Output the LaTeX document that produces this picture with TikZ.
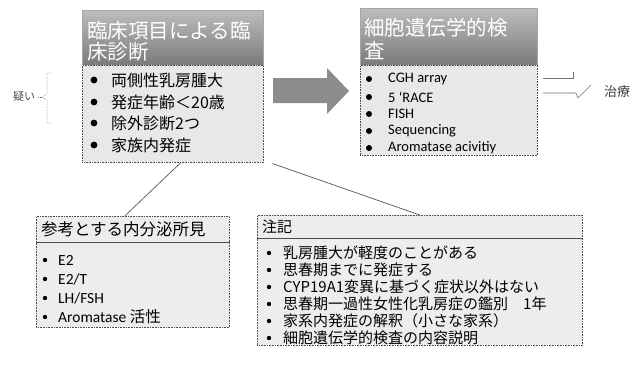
\documentclass[tikz,border=0pt]{standalone}
\usepackage{fontspec}
\setmainfont{Carlito}
\newfontfamily\jp{Noto Sans CJK JP}
\usetikzlibrary{calc}
\begin{document}
\begin{tikzpicture}[x=1pt,y=-1pt,
  hdr/.style={rectangle, top color=black!26, bottom color=black!52, draw=black!35, line width=0.4pt, inner sep=0pt},
  bodybox/.style={rectangle, fill=black!9, draw=black!70, densely dotted, line width=0.6pt, inner sep=0pt},
  plainbox/.style={rectangle, fill=black!7, draw=black!70, densely dotted, line width=0.6pt, inner sep=0pt},
  htext/.style={inner sep=0pt, anchor=west, text=white, font=\jp\fontsize{20.5}{21}\selectfont},
  itemA/.style={inner sep=0pt, anchor=west, font=\jp\fontsize{16}{16}\selectfont},
  itemB/.style={inner sep=0pt, anchor=west, font=\fontsize{14.5}{14.5}\selectfont},
  itemC/.style={inner sep=0pt, anchor=west, font=\fontsize{15.5}{15.5}\selectfont},
  itemD/.style={inner sep=0pt, anchor=west, font=\jp\fontsize{15}{15}\selectfont},
  conn/.style={draw=black!60, line width=0.8pt},
  faint/.style={draw=black!55, line width=0.5pt, densely dotted}
]
\useasboundingbox[fill=white] (0,0) rectangle (641,370);

% ---- Box 1 ----
\node[hdr, minimum width=181pt, minimum height=55pt, anchor=north west] (h1) at (82,10) {};
\node[htext] (h1a) at (87,31) {臨床項目による臨};
\node[htext] (h1b) at (87,52) {床診断};
\node[bodybox, minimum width=181pt, minimum height=97pt, anchor=north west] (b1) at (82,65) {};
\foreach \yy/\tt [count=\i] in {80/両側性乳房腫大, 102/発症年齢＜20歳, 123/除外診断2つ, 145/家族内発症}{
  \fill (94,\yy) circle (3.4pt);
  \node[itemA] (a\i) at (111,\yy) {\tt};
}

% ---- big arrow ----
\fill[black!45] (273,78) -- (327,78) -- (327,68) -- (349,91) -- (327,114) -- (327,103) -- (273,103) -- cycle;

% ---- Box 2 ----
\node[hdr, minimum width=177pt, minimum height=57pt, anchor=north west] (h2) at (360,8) {};
\node[htext] (h2a) at (364,28) {細胞遺伝学的検};
\node[htext] (h2b) at (364,50) {査};
\node[bodybox, minimum width=177pt, minimum height=90pt, anchor=north west] (b2) at (360,65) {};
\foreach \yy/\tt [count=\i] in {79/{CGH array}, 97/{5 ‘RACE}, 114/{FISH}, 131/{Sequencing}, 148/{Aromatase acivitiy}}{
  \fill (369,\yy) circle (3pt);
  \node[itemB] (r\i) at (388,\yy) {\tt};
}

% ---- suspicion brace ----
\node[inner sep=0pt, font=\jp\fontsize{11}{11}\selectfont, text=black!70] (sus) at (24,96) {疑い};
\coordinate (bt) at (52,73);
\coordinate (bb) at (52,123);
\coordinate (bm) at (42,97);
\draw[faint] (bt) -- (47,73) -- (47,94) -- (bm) -- (47,100) -- (47,123) -- (bb);
\draw[faint] (sus.east) ++(3,1) -- (bm);

% ---- therapy ----
\node[inner sep=0pt, font=\jp\fontsize{13}{13}\selectfont, text=black!75] (tx) at (617,92) {治療};
\draw[draw=black!55, line width=0.5pt] (543,78) -- (573,78) -- (573,72);
\draw[draw=black!55, line width=0.6pt] (543,93) -- (576,93) -- (578,98) -- (591,85);

% ---- Box 3 ----
\node[plainbox, minimum width=193pt, minimum height=111pt, anchor=north west] (b3) at (36,216) {};
\draw[draw=black!70, line width=0.6pt] (b3.west |- 0,242) -- (b3.east |- 0,242);
\node[inner sep=0pt, anchor=west, font=\jp\fontsize{16.5}{16.5}\selectfont] (t3) at (41,229) {参考とする内分泌所見};
\foreach \yy/\tt [count=\i] in {260/{E2}, 279/{E2/T}, 298/{LH/FSH}, 317/{Aromatase {\jp 活性}}}{
  \fill (45,\yy) circle (2.2pt);
  \node[itemC] (e\i) at (58,\yy) {\tt};
}

% ---- Box 4 ----
\node[plainbox, minimum width=325pt, minimum height=130pt, anchor=north west] (b4) at (257,215) {};
\draw[draw=black!70, line width=0.6pt] (b4.west |- 0,238) -- (b4.east |- 0,238);
\node[inner sep=0pt, anchor=west, font=\jp\fontsize{15}{15}\selectfont] (t4) at (262,227) {注記};
\foreach \yy/\tt [count=\i] in {253/乳房腫大が軽度のことがある, 270/思春期までに発症する, 287/CYP19A1変異に基づく症状以外はない, 304/思春期一過性女性化乳房症の鑑別　1年, 321/家系内発症の解釈（小さな家系）, 338/細胞遺伝学的検査の内容説明}{
  \fill (269,\yy) circle (2.2pt);
  \node[itemD] (n\i) at (283,\yy) {\tt};
}

% ---- connectors ----
\draw[conn] ([xshift=8pt]b1.south) -- ([xshift=-8pt]b3.north);
\draw[conn] ([xshift=9pt,yshift=-1pt]b1.south east) -- (b4.north);
\end{tikzpicture}
\end{document}
